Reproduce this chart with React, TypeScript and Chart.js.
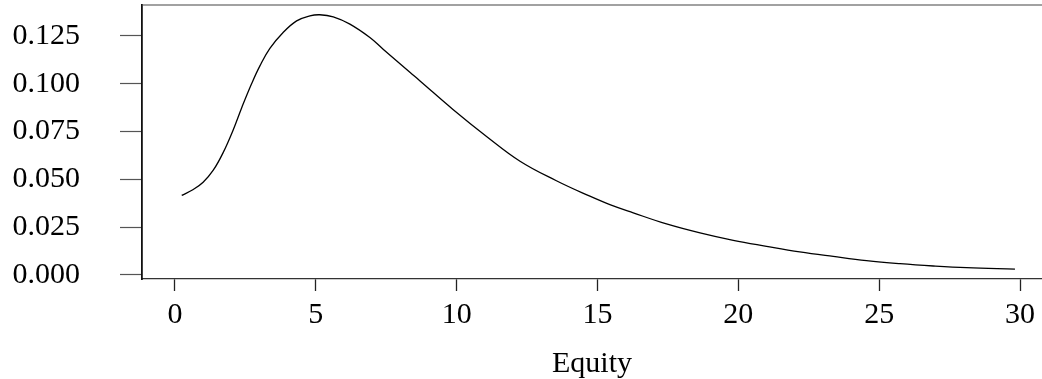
import React, { useEffect, useRef } from "react";
import { Chart, registerables } from "chart.js";

Chart.register(...registerables);

// Density curve of Equity
const EQUITY_X = [
  0.24, 0.65, 1.0, 1.36, 1.71, 2.07, 2.37, 2.72, 3.02, 3.37, 3.84, 4.32, 4.79,
  5.14, 5.62, 6.21, 6.92, 7.39, 8.34, 8.7, 9.87, 11.05, 12.25, 13.54, 14.73,
  15.44, 16.27, 17.45, 18.64, 19.82, 21.0, 22.18, 23.37, 24.55, 25.74, 26.92,
  28.1, 29.82,
];
const DENSITY = [
  0.0416, 0.0447, 0.0485, 0.0548, 0.064, 0.076, 0.0875, 0.1, 0.1095, 0.1185,
  0.1268, 0.1329, 0.1355, 0.1361, 0.135, 0.1312, 0.1242, 0.1181, 0.106,
  0.1015, 0.0866, 0.0726, 0.0595, 0.0493, 0.0412, 0.0368, 0.0325, 0.0267,
  0.022, 0.0181, 0.015, 0.0121, 0.0097, 0.0075, 0.0059, 0.0047, 0.0038,
  0.0031,
];

const X_TICKS = [0, 5, 10, 15, 20, 25, 30];
const Y_TICKS = [0, 0.025, 0.05, 0.075, 0.1, 0.125];
const Y_TICK_LABELS = ["0.000", "0.025", "0.050", "0.075", "0.100", "0.125"];
const X_TITLE = "Equity";

const FONT = "'Liberation Serif', 'Times New Roman', serif";

const topFrame = {
  id: "topFrame",
  afterDraw(chart: any) {
    const { ctx, chartArea } = chart;
    ctx.save();
    ctx.strokeStyle = "#444";
    ctx.lineWidth = 1.2;
    ctx.beginPath();
    ctx.moveTo(chartArea.left, chartArea.top);
    ctx.lineTo(chartArea.right, chartArea.top);
    ctx.stroke();
    ctx.restore();
  },
};

export default function App() {
  const ref = useRef<HTMLCanvasElement | null>(null);

  useEffect(() => {
    if (!ref.current) return;
    const chart = new Chart(ref.current, {
      type: "line",
      data: {
        datasets: [
          {
            data: EQUITY_X.map((x, i) => ({ x, y: DENSITY[i] })),
            borderColor: "#000",
            borderWidth: 1.3,
            pointRadius: 0,
            tension: 0.4,
            fill: false,
          },
        ],
      },
      options: {
        responsive: false,
        animation: false,
        layout: { padding: { top: 5, left: 0, right: 0, bottom: 0 } },
        plugins: {
          legend: { display: false },
          tooltip: { enabled: false },
          title: { display: false },
        },
        scales: {
          x: {
            type: "linear",
            min: -1.17,
            max: 30.78,
            afterBuildTicks: (s: any) => {
              s.ticks = X_TICKS.map((v) => ({ value: v }));
            },
            afterFit: (s: any) => {
              s.height = 100;
              s.paddingLeft = 0;
              s.paddingRight = 0;
            },
            grid: {
              drawOnChartArea: false,
              drawTicks: true,
              tickLength: 12,
              tickWidth: 1.3,
              tickColor: "#222",
            },
            border: { display: true, color: "#333", width: 1.3 },
            ticks: {
              padding: 6,
              color: "#000",
              font: { family: FONT, size: 30 },
              maxRotation: 0,
              callback: (v: any) => String(v),
            },
            title: {
              display: true,
              text: X_TITLE,
              color: "#000",
              font: { family: FONT, size: 30 },
              padding: { top: 0, bottom: -3 },
            },
          },
          y: {
            type: "linear",
            min: -0.0021,
            max: 0.1412,
            afterBuildTicks: (s: any) => {
              s.ticks = Y_TICKS.map((v) => ({ value: v }));
            },
            afterFit: (s: any) => {
              s.width = 142;
              s.paddingTop = 0;
              s.paddingBottom = 0;
            },
            grid: {
              drawOnChartArea: false,
              drawTicks: true,
              tickLength: 22,
              tickWidth: 1.2,
              tickColor: "#555",
            },
            border: { display: true, color: "#111", width: 1.8 },
            ticks: {
              padding: 40,
              color: "#000",
              font: { family: FONT, size: 30 },
              callback: (_v: any, i: number) => Y_TICK_LABELS[i],
            },
          },
        },
      },
      plugins: [topFrame],
    });
    return () => chart.destroy();
  }, []);

  return (
    <div style={{ position: "fixed", left: 0, top: 0, width: 1042, height: 379, background: "#fff" }}>
      <canvas ref={ref} width={1042} height={379} style={{ display: "block" }} />
    </div>
  );
}
